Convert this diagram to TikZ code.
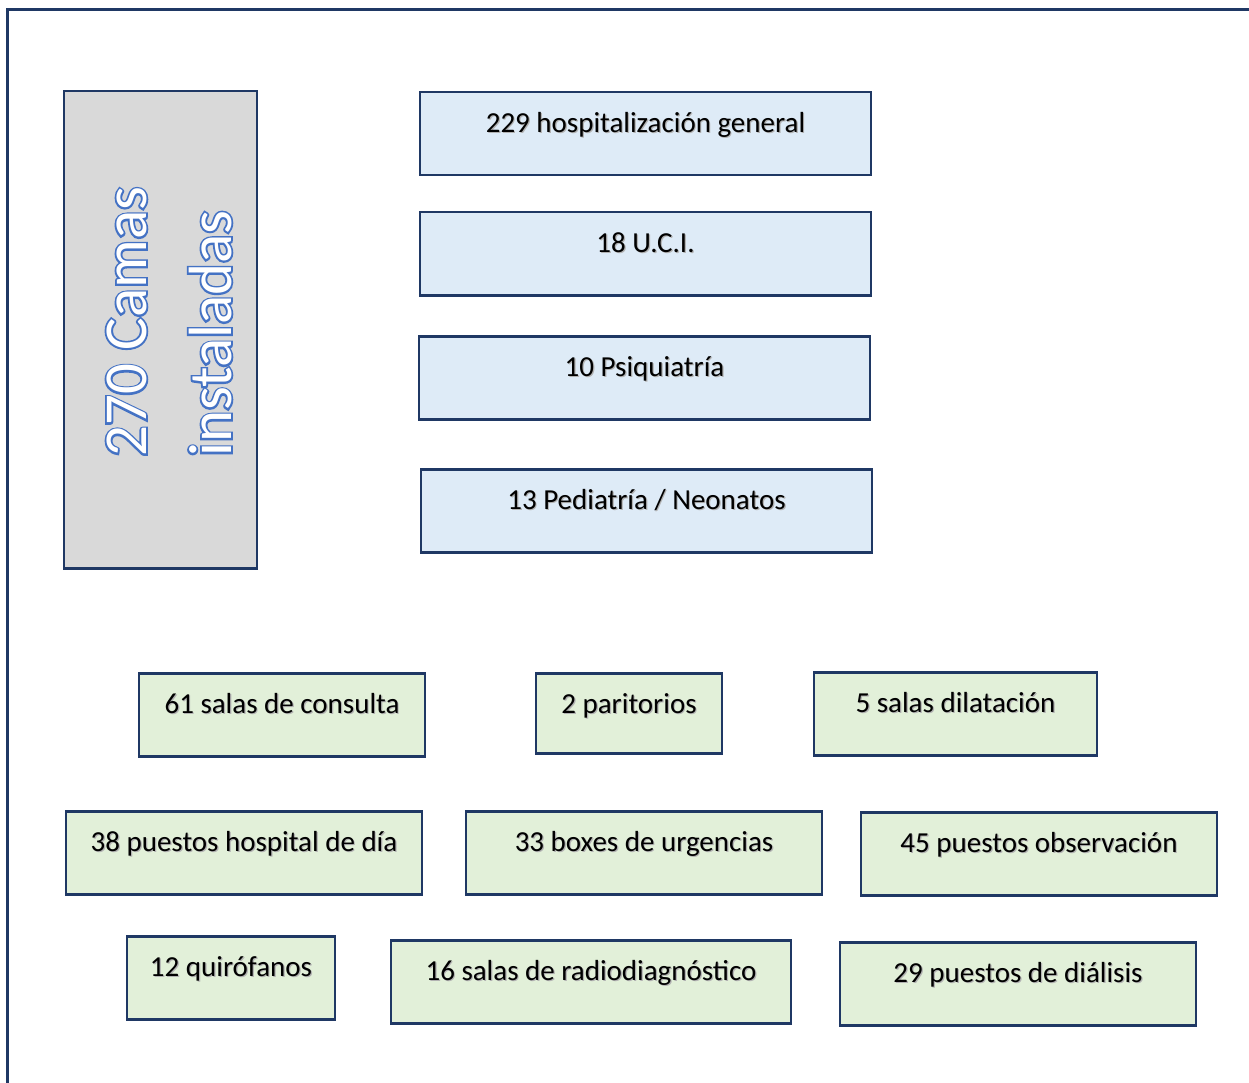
\documentclass[tikz,border=0pt]{standalone}
\usepackage{fontspec}
\setmainfont{Carlito}
\newfontfamily\embfont{Carlito}[FakeBold=6]
\definecolor{navy}{HTML}{1F3864}
\definecolor{bluefill}{HTML}{DEEBF7}
\definecolor{greenfill}{HTML}{E2F0D9}
\definecolor{grayfill}{HTML}{D9D9D9}
\definecolor{outlineblue}{HTML}{4472C4}
\newcommand\shtxt[1]{\makebox[0pt][l]{\hspace{1.2pt}\raisebox{-1.2pt}{\textcolor{black!30}{#1}}}#1}
\tikzset{
  cell/.style={draw=navy, line width=2.5pt, anchor=north, inner sep=0pt,
    text height=40pt, text depth=43pt, font=\fontsize{29}{34}\selectfont},
  bluecell/.style={cell, fill=bluefill},
  greencell/.style={cell, fill=greenfill},
  bigtxt/.style={rotate=90, anchor=base west, inner sep=0pt, font=\fontsize{61}{70}\selectfont},
}
\begin{document}
\begin{tikzpicture}[x=1pt,y=-1pt]
\useasboundingbox (0,0) rectangle (1249,1083);
\clip (0,0) rectangle (1249,1083);
\draw[navy, line width=3pt] (7,1095) -- (7,10) -- (1260,10);

% gray box
\node[draw=navy, line width=2.5pt, fill=grayfill, anchor=north, inner sep=0pt,
  minimum width=193pt, minimum height=477pt] (camas) at (160.5,90) {};
\node[bigtxt, text=outlineblue, font=\fontsize{61}{70}\embfont] (camasA) at (146,457) {270 Camas};
\node[bigtxt, text=white] (camasB) at (146,457) {270 Camas};
\node[bigtxt, text=outlineblue, font=\fontsize{61}{70}\embfont] (instA) at (231,457) {instaladas};
\node[bigtxt, text=white] (instB) at (231,457) {instaladas};

% blue boxes
\node[bluecell, minimum width=451pt] (hosp) at (645.5,91) {\shtxt{229 hospitalización general}};
\node[bluecell, minimum width=451pt] (uci) at (645.5,211) {\shtxt{18 U.C.I.}};
\node[bluecell, minimum width=451pt] (psiq) at (644.5,335) {\shtxt{10 Psiquiatría}};
\node[bluecell, minimum width=451pt] (pedi) at (646.5,468) {\shtxt{13 Pediatría / Neonatos}};

% green boxes
\node[greencell, minimum width=286pt] (consulta) at (282,672) {\shtxt{61 salas de consulta}};
\node[greencell, minimum width=186pt, text depth=40pt] (paritorios) at (629,672) {\shtxt{2 paritorios}};
\node[greencell, minimum width=283pt] (dilatacion) at (955.5,671) {\shtxt{5 salas dilatación}};
\node[greencell, minimum width=356pt] (hdia) at (244,810) {\shtxt{38 puestos hospital de día}};
\node[greencell, minimum width=356pt] (urgencias) at (644,810) {\shtxt{33 boxes de urgencias}};
\node[greencell, minimum width=356pt] (observacion) at (1039,811) {\shtxt{45 puestos observación}};
\node[greencell, minimum width=208pt] (quirofanos) at (231,935) {\shtxt{12 quirófanos}};
\node[greencell, minimum width=400pt] (radio) at (591,939) {\shtxt{16 salas de radiodiagnóstico}};
\node[greencell, minimum width=356pt] (dialisis) at (1018,941) {\shtxt{29 puestos de diálisis}};
\end{tikzpicture}
\end{document}
